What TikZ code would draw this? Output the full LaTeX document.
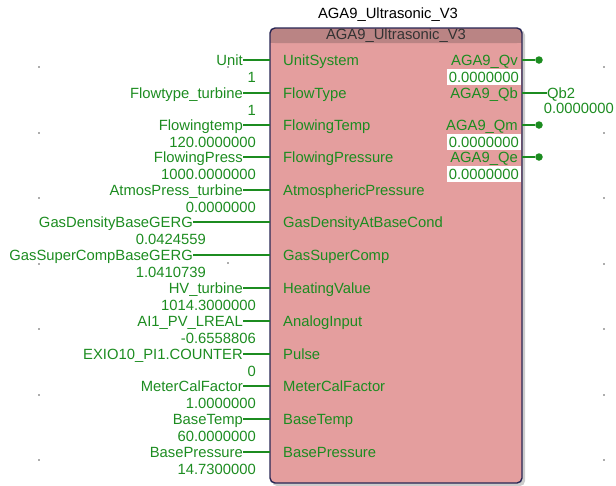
\documentclass[tikz,border=0pt]{standalone}
\usepackage{fontspec}
\setmainfont{Liberation Sans}
\definecolor{pgreen}{RGB}{28,140,32}
\definecolor{blkfill}{RGB}{228,158,158}
\definecolor{hdrfill}{RGB}{186,132,132}
\definecolor{blkborder}{RGB}{40,38,84}
\definecolor{dotgray}{RGB}{90,90,90}
\newcommand{\fbfont}{\fontsize{14.8}{16}\selectfont}
\tikzset{
  lbl/.style={text=pgreen,font=\fbfont,inner sep=0pt,text height=10.5pt,text depth=0pt},
  inlbl/.style={lbl,anchor=east},
  val/.style={lbl,anchor=east},
  pinname/.style={lbl,anchor=west},
  outname/.style={lbl,anchor=east},
  outval/.style={lbl,anchor=east,fill=white,inner xsep=2pt,inner ysep=2.5pt},
  wire/.style={draw=pgreen,line width=1.1pt},
  gdot/.style={circle,fill=pgreen,inner sep=0pt,minimum size=7.5pt},
  griddot/.style={fill=dotgray},
}
\begin{document}
\begin{tikzpicture}[x=1pt,y=-1pt]
\useasboundingbox (0,0) rectangle (616,485);
% grid dots
\foreach \yy in {67,133,198,264,329,395,460}{
  \fill[griddot] (39,\yy) circle (0.8);
  \fill[griddot] (604,\yy) circle (0.8);
}
\fill[griddot] (228,67) circle (0.8);
\fill[griddot] (228,263) circle (0.8);
% title
\node[font=\fbfont,text=black,inner sep=1pt] (title) at (388,15) {AGA9\_Ultrasonic\_V3};
% block
\fill[gray!40,rounded corners=5pt] (272,30) rectangle (525,486);
\path[fill=blkfill,rounded corners=5pt] (270,28) rectangle (522,483);
\path[fill=hdrfill,rounded corners=5pt] (270,43) |- (522,28) -- (522,43) -- cycle;
\fill[hdrfill] (270,36) rectangle (522,43);
\draw[blkborder,line width=1.4pt,rounded corners=5pt] (270,28) rectangle (522,483);
\node[font=\fbfont,text=black!80,inner sep=0pt] (hdr) at (396,35.5) {AGA9\_Ultrasonic\_V3};
% input pins
\foreach \nm/\row/\lx/\lab/\v in {
  UnitSystem/60/243/Unit/1,
  FlowType/93/243/Flowtype\_turbine/1,
  FlowingTemp/125/243/Flowingtemp/120.0000000,
  FlowingPressure/157/243/FlowingPress/1000.0000000,
  AtmosphericPressure/190/243/AtmosPress\_turbine/0.0000000,
  GasDensityAtBaseCond/222/193/GasDensityBaseGERG/0.0424559,
  GasSuperComp/255/193/GasSuperCompBaseGERG/1.0410739,
  HeatingValue/288/243/HV\_turbine/1014.3000000,
  AnalogInput/321/243/AI1\_PV\_LREAL/-0.6558806,
  Pulse/354/243/EXIO10\_PI1.COUNTER/0,
  MeterCalFactor/386/243/MeterCalFactor/1.0000000,
  BaseTemp/419/243/BaseTemp/60.0000000,
  BasePressure/452/243/BasePressure/14.7300000}{
  \coordinate (in-\nm) at (270,\row);
  \node[pinname] (pin-\nm) at (283,\row) {\nm};
  \node[inlbl] (lab-\nm) at (\lx,\row) {\lab};
  \node[val] (val-\nm) at (\lx+13,\row+17) {\v};
  \draw[wire] (lab-\nm.east) -- (in-\nm);
}
% output pins
\foreach \nm/\row in {Qv/60,Qb/93,Qm/125,Qe/157}{
  \coordinate (out-\nm) at (522,\row);
  \node[outname] (oname-\nm) at (518,\row) {AGA9\_\nm};
}
\foreach \nm/\row in {Qv/60,Qm/125,Qe/157}{
  \node[gdot] (dot-\nm) at (539,\row) {};
  \draw[wire] (out-\nm) -- (dot-\nm);
  \node[outval] (oval-\nm) at (521,\row+17) {0.0000000};
}
\node[lbl,anchor=west] (qb2) at (547,93) {Qb2};
\draw[wire] (out-Qb) -- (qb2.west);
\node[lbl,anchor=east] (qb2val) at (614,108) {0.0000000};
\end{tikzpicture}
\end{document}
